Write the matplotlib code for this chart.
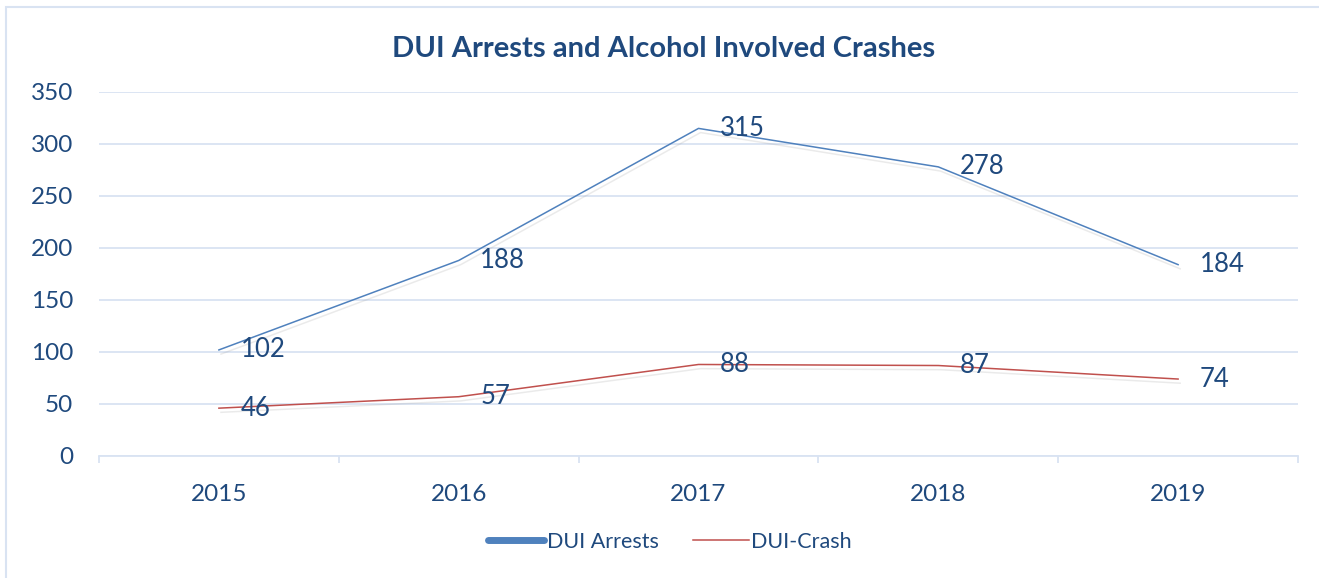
import matplotlib as ml
ml.use('Agg')
import matplotlib.pyplot as plt
import matplotlib.patheffects as pe
from matplotlib.lines import Line2D
from matplotlib.patches import Rectangle

# Chart data
years = ['2015', '2016', '2017', '2018', '2019']
dui_arrests = [102, 188, 315, 278, 184]
dui_crash = [46, 57, 88, 87, 74]

TXT = '#1F497D'
BLUE = '#4F81BD'
RED = '#C0504D'
GRID = '#D9E3F2'

plt.rcParams['font.family'] = ['Lato', 'DejaVu Sans']

W, H = 1319, 578
fig = plt.figure(figsize=(W / 100, H / 100), dpi=100)

# outer chart frame
fig.patches.append(Rectangle((6 / W, -0.1), 1.2, (H - 7) / H + 0.1, transform=fig.transFigure,
                             fill=False, ec=GRID, lw=1.5))

ax = fig.add_axes([99 / W, (H - 456) / H, 1199 / W, 364 / H])
xs = [i + 0.5 for i in range(len(years))]

shadow = [pe.SimpleLineShadow(offset=(1.5, -3), shadow_color='#999999', alpha=0.2), pe.Normal()]
ax.plot(xs, dui_arrests, color=BLUE, lw=1.1, path_effects=shadow, zorder=3)
ax.plot(xs, dui_crash, color=RED, lw=1.1, path_effects=shadow, zorder=3)

# data labels to the right of each point
for series in (dui_arrests, dui_crash):
    for x, v in zip(xs, series):
        ax.annotate(str(v), (x, v), xytext=(15.5, 0), textcoords='offset points',
                    ha='left', va='center', fontsize=18.5, color=TXT, zorder=4)

ax.set_xlim(0, len(years))
ax.set_ylim(0, 350)
ax.set_yticks(range(0, 351, 50))
ax.grid(axis='y', color=GRID, lw=1.3)
ax.set_axisbelow(True)

ax.set_xticks(range(len(years) + 1))
ax.set_xticklabels([])
ax.set_xticks(xs, minor=True)
ax.set_xticklabels(years, minor=True)
ax.tick_params(axis='x', which='major', length=5, color=GRID, width=1.3, direction='out')
ax.tick_params(axis='x', which='minor', length=0, pad=20, labelsize=17.5, labelcolor=TXT)
ax.tick_params(axis='y', length=0, pad=18.5, labelsize=17.5, labelcolor=TXT)

for s in ['top', 'right', 'left']:
    ax.spines[s].set_visible(False)
ax.spines['bottom'].set_color(GRID)
ax.spines['bottom'].set_linewidth(1.3)

fig.text(664 / W, 1 - 49 / H, 'DUI Arrests and Alcohol Involved Crashes', ha='center', va='center',
         fontsize=21, fontweight='bold', color=TXT)

handles = [Line2D([], [], color=BLUE, lw=5, solid_capstyle='round'),
           Line2D([], [], color=RED, lw=1.1)]
fig.legend(handles, ['DUI Arrests', 'DUI-Crash'], loc='center', bbox_to_anchor=(670 / W, 1 - 542 / H),
           ncol=2, frameon=False, fontsize=15.5, labelcolor=TXT, handlelength=2.6, handletextpad=0.1,
           columnspacing=1.6)

fig.savefig('out.png', dpi=100)
